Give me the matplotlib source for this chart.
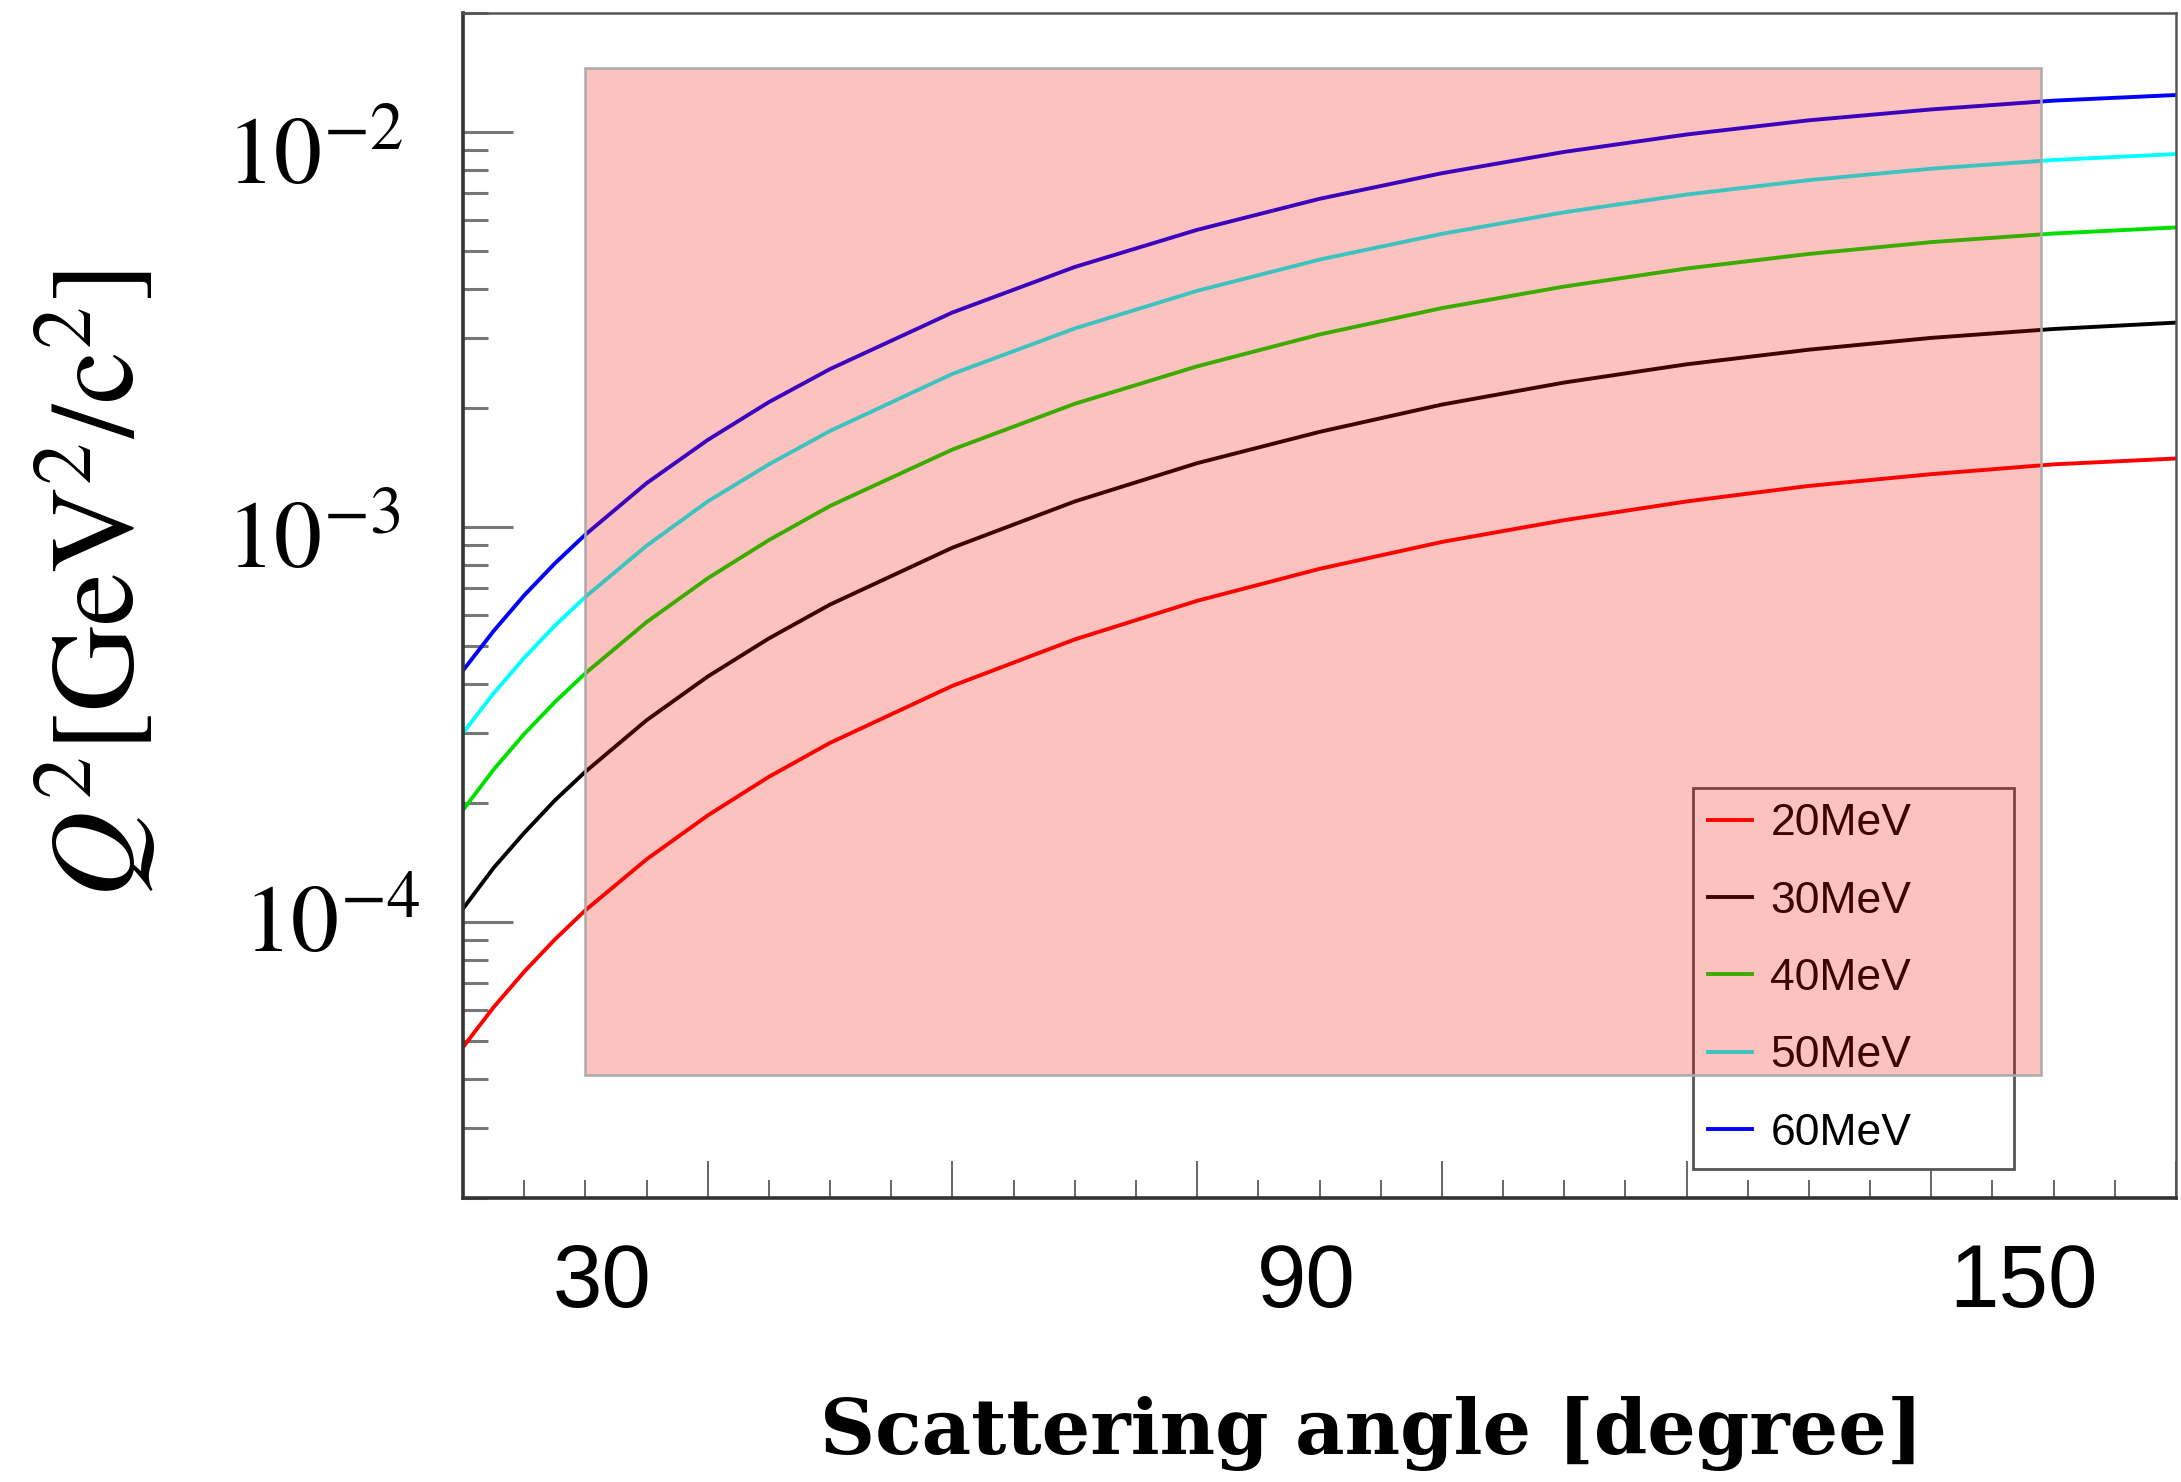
import matplotlib
matplotlib.use("Agg")
import matplotlib.pyplot as plt
from matplotlib.patches import Rectangle
from matplotlib.ticker import LogLocator, MultipleLocator, NullFormatter

plt.rcParams["mathtext.fontset"] = "stix"

# scattering angle [deg] and Q^2 [GeV^2/c^2]
angle_deg = [20, 22.5, 25, 27.5, 30, 35, 40, 45, 50, 60, 70, 80, 90, 100, 110, 120, 130, 140, 150, 160]
q2_20mev = [4.82e-5, 6.08e-5, 7.48e-5, 9.02e-5, 1.07e-4, 1.44e-4, 1.86e-4, 2.33e-4, 2.84e-4, 3.96e-4,
            5.19e-4, 6.50e-4, 7.83e-4, 9.16e-4, 1.04e-3, 1.16e-3, 1.27e-3, 1.36e-3, 1.44e-3, 1.49e-3]
q2_30mev = [1.08e-4, 1.37e-4, 1.68e-4, 2.03e-4, 2.40e-4, 3.24e-4, 4.18e-4, 5.22e-4, 6.36e-4, 8.86e-4,
            1.16e-3, 1.45e-3, 1.74e-3, 2.04e-3, 2.32e-3, 2.58e-3, 2.81e-3, 3.01e-3, 3.17e-3, 3.29e-3]
q2_40mev = [1.92e-4, 2.43e-4, 2.99e-4, 3.60e-4, 4.26e-4, 5.74e-4, 7.41e-4, 9.26e-4, 1.13e-3, 1.57e-3,
            2.05e-3, 2.55e-3, 3.07e-3, 3.58e-3, 4.06e-3, 4.51e-3, 4.91e-3, 5.26e-3, 5.53e-3, 5.73e-3]
q2_50mev = [3.01e-4, 3.79e-4, 4.66e-4, 5.62e-4, 6.65e-4, 8.96e-4, 1.16e-3, 1.44e-3, 1.75e-3, 2.44e-3,
            3.18e-3, 3.96e-3, 4.75e-3, 5.52e-3, 6.26e-3, 6.94e-3, 7.55e-3, 8.07e-3, 8.49e-3, 8.79e-3]
q2_60mev = [4.33e-4, 5.45e-4, 6.71e-4, 8.08e-4, 9.56e-4, 1.29e-3, 1.66e-3, 2.07e-3, 2.51e-3, 3.49e-3,
            4.55e-3, 5.65e-3, 6.77e-3, 7.86e-3, 8.90e-3, 9.85e-3, 1.07e-2, 1.14e-2, 1.20e-2, 1.24e-2]

series = [("20MeV", q2_20mev, "#ff0000"),
          ("30MeV", q2_30mev, "#000000"),
          ("40MeV", q2_40mev, "#00e000"),
          ("50MeV", q2_50mev, "#00ffff"),
          ("60MeV", q2_60mev, "#0000ff")]

# acceptance window (shaded)
window_angle = (30, 149)
window_q2 = (4.1e-5, 1.45e-2)

big_xticks = ["30", "90", "150"]
big_yticks = [r"$10^{-2}$", r"$10^{-3}$", r"$10^{-4}$"]

W, H = 2181, 1482
fig = plt.figure(figsize=(W / 100, H / 100), dpi=100)
ax = fig.add_axes([463 / W, 1 - 1198 / H, 1713 / W, 1185 / H])

for label, values, color in series:
    ax.plot(angle_deg, values, color=color, linewidth=2.8, label=label)

ax.set_yscale("log")
ax.set_xlim(20, 160)
ax.set_ylim(2e-5, 2e-2)

ax.add_patch(Rectangle((window_angle[0], window_q2[0]),
                       window_angle[1] - window_angle[0], window_q2[1] - window_q2[0],
                       facecolor=(0.95, 0.05, 0.0, 0.25), edgecolor="#aaaaaa",
                       linewidth=1.8, zorder=10))

ax.xaxis.set_major_locator(MultipleLocator(20))
ax.xaxis.set_minor_locator(MultipleLocator(5))
ax.yaxis.set_major_locator(LogLocator(base=10))
ax.yaxis.set_minor_locator(LogLocator(base=10, subs=range(2, 10)))
ax.yaxis.set_minor_formatter(NullFormatter())
ax.tick_params(axis="y", which="major", direction="in", length=36, width=2.2, color="#777777",
               left=True, right=False, labelleft=False)
ax.tick_params(axis="y", which="minor", direction="in", length=18, width=2.2, color="#777777",
               left=True, right=False)
ax.tick_params(axis="x", which="major", direction="in", length=27, width=1.4, color="#666666",
               bottom=True, top=False, labelbottom=False)
ax.tick_params(axis="x", which="minor", direction="in", length=13, width=1.4, color="#666666",
               bottom=True, top=False)

for side in ["left", "bottom"]:
    ax.spines[side].set_linewidth(2.6)
    ax.spines[side].set_color("#333333")
for side in ["top", "right"]:
    ax.spines[side].set_linewidth(1.8)
    ax.spines[side].set_color("#555555")

leg = ax.legend(loc="upper left", bbox_to_anchor=(0.718, 0.0338, 0.1874, 0.3122), mode="expand",
                borderaxespad=0, fancybox=False, edgecolor="#555555", framealpha=1,
                prop={"family": "Liberation Sans", "size": 32}, handlelength=1.0,
                handletextpad=0.4, labelspacing=0.82, borderpad=0.34)
leg.get_frame().set_linewidth(2.0)

# hand-placed axis labels as in the original figure
for text, xc in zip(big_xticks, [602, 1306, 2024]):
    fig.text(xc / W, 1 - 1307 / H, text, ha="center", va="baseline",
             family="Liberation Sans", fontsize=64)
for text, x0, base in zip(big_yticks, [226, 226, 243], [184, 568, 953]):
    fig.text(x0 / W, 1 - base / H, text, ha="left", va="baseline", fontsize=69)

fig.text(96 / W, 1 - 584 / H, r"$Q^2[\mathrm{GeV}^2/\mathrm{c}^2]$", rotation=90,
         ha="center", va="center", fontsize=86)
fig.text(1372 / W, 1 - 1454 / H, "Scattering angle [degree]", ha="center", va="baseline",
         family="DejaVu Serif", fontweight="bold", fontsize=55)

fig.savefig("out.png", dpi=100)
